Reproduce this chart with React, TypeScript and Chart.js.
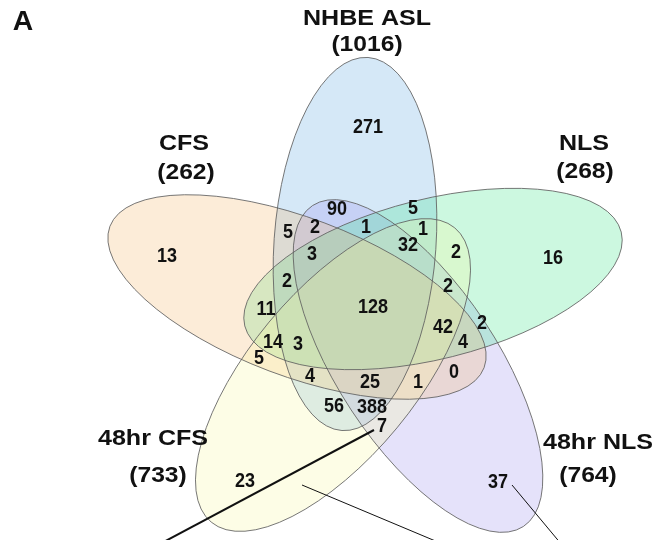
import React, { useEffect, useRef } from "react";
import { Chart, registerables } from "chart.js";

Chart.register(...registerables);

// ---- Data ----
const setNames = ["NHBE ASL", "CFS", "NLS", "48hr CFS", "48hr NLS"];
const setTotals = [1016, 262, 268, 733, 764];

// counts of the 31 regions of the 5-set Venn diagram
const regionCounts = [
  271, 13, 16, 23, 37, 90, 5, 2, 1, 5, 1, 32, 2, 3, 2, 2, 128, 11, 2, 42, 14, 3, 4, 5, 0, 4, 25, 1, 56, 388, 7,
];

// ---- Layout (positions in plot units) ----
const regionX = [
  368, 167, 553, 245, 498, 337, 288, 315, 366, 413, 423, 408, 456, 312, 287, 448, 373, 266, 482, 443, 273, 298, 463, 259, 454, 310, 370, 418, 334, 372, 382,
];
const regionY = [
  128, 257, 259, 482, 483, 210, 233, 228, 228, 209, 230, 246, 253, 255, 282, 287, 308, 310, 324, 328, 343, 345, 343, 359, 373, 377, 383, 383, 407, 408, 427,
];

// ellipse geometry: centre, semi-axes, rotation (deg), per set
const ellCx = [355, 297, 433, 333, 418];
const ellCy = [244, 297, 279, 375, 366];
const ellA = [187, 200, 194, 191, 192];
const ellB = [81, 79, 80, 83, 80];
const ellRot = [-86, 20.7, -14, -50.4, 56.7];
const ellFill = [
  "rgba(93,167,224,0.26)",
  "rgba(243,182,105,0.26)",
  "rgba(59,228,136,0.26)",
  "rgba(247,247,159,0.26)",
  "rgba(155,143,236,0.26)",
];
const fillOrder = [0, 4, 2, 1, 3];

// set title positions
const titleX = [367, 184, 584, 153, 598];
const titleY = [19, 144, 144, 439, 443];
const totalX = [367, 186, 585, 158, 588];
const totalY = [45, 173, 172, 476, 476];

// leader lines [x1, y1, x2, y2, width]
const leaders = [
  [374, 430, 158, 545, 2],
  [302, 485, 445, 545, 1],
  [512, 485, 562, 545, 1],
];

const FONT = '"Liberation Sans", Arial, Helvetica, sans-serif';

function drawText(ctx: CanvasRenderingContext2D, text: string, x: number, y: number, size: number, sx: number, sy: number) {
  ctx.save();
  ctx.translate(x, y);
  ctx.scale(sx, sy);
  ctx.font = `bold ${size}px ${FONT}`;
  ctx.fillStyle = "#111";
  ctx.textAlign = "center";
  ctx.textBaseline = "middle";
  ctx.fillText(text, 0, 0);
  ctx.restore();
}

function ellipsePath(ctx: CanvasRenderingContext2D, xs: any, ys: any, k: number, i: number) {
  ctx.beginPath();
  ctx.ellipse(
    xs.getPixelForValue(ellCx[i]),
    ys.getPixelForValue(ellCy[i]),
    ellA[i] * k,
    ellB[i] * k,
    (ellRot[i] * Math.PI) / 180,
    0,
    Math.PI * 2
  );
}

const vennPlugin = {
  id: "venn",
  beforeDatasetsDraw(chart: any) {
    const { ctx, scales } = chart;
    const xs = scales.x;
    const ys = scales.y;
    const k = Math.abs(xs.getPixelForValue(1) - xs.getPixelForValue(0));
    ctx.save();
    for (const i of fillOrder) {
      ellipsePath(ctx, xs, ys, k, i);
      ctx.fillStyle = ellFill[i];
      ctx.fill();
    }
    ctx.lineWidth = 1;
    ctx.strokeStyle = "rgba(95,95,95,0.85)";
    for (let i = 0; i < setNames.length; i++) {
      ellipsePath(ctx, xs, ys, k, i);
      ctx.stroke();
    }
    ctx.strokeStyle = "#111";
    for (const l of leaders) {
      ctx.beginPath();
      ctx.lineWidth = l[4];
      ctx.moveTo(xs.getPixelForValue(l[0]), ys.getPixelForValue(l[1]));
      ctx.lineTo(xs.getPixelForValue(l[2]), ys.getPixelForValue(l[3]));
      ctx.stroke();
    }
    ctx.restore();
  },
  afterDatasetsDraw(chart: any) {
    const { ctx, scales } = chart;
    const xs = scales.x;
    const ys = scales.y;
    const meta = chart.getDatasetMeta(0);
    meta.data.forEach((pt: any, i: number) => {
      drawText(ctx, String(regionCounts[i]), pt.x, pt.y, 18, 1, 1.08);
    });
    for (let i = 0; i < setNames.length; i++) {
      drawText(ctx, setNames[i], xs.getPixelForValue(titleX[i]), ys.getPixelForValue(titleY[i]), 22, 1.14, 1);
      drawText(ctx, `(${setTotals[i]})`, xs.getPixelForValue(totalX[i]), ys.getPixelForValue(totalY[i]), 22, 1.12, 1.02);
    }
    drawText(ctx, "A", xs.getPixelForValue(23), ys.getPixelForValue(23), 27, 1.05, 1);
  },
};

export default function App() {
  const ref = useRef<HTMLCanvasElement>(null);
  useEffect(() => {
    if (!ref.current) return;
    const chart = new Chart(ref.current, {
      type: "scatter",
      data: {
        datasets: [
          {
            data: regionX.map((x, i) => ({ x, y: regionY[i] })),
            pointRadius: 0,
            showLine: false,
          },
        ],
      },
      options: {
        animation: false,
        responsive: true,
        maintainAspectRatio: false,
        layout: { padding: 0 },
        events: [],
        scales: {
          x: { type: "linear", min: 0, max: 657, display: false },
          y: { type: "linear", min: 0, max: 540, reverse: true, display: false },
        },
        plugins: { legend: { display: false }, tooltip: { enabled: false } },
      },
      plugins: [vennPlugin],
    } as any);
    return () => chart.destroy();
  }, []);
  return (
    <div style={{ position: "absolute", left: 0, top: 0, width: 657, height: 540, background: "#fff" }}>
      <canvas ref={ref} />
    </div>
  );
}
